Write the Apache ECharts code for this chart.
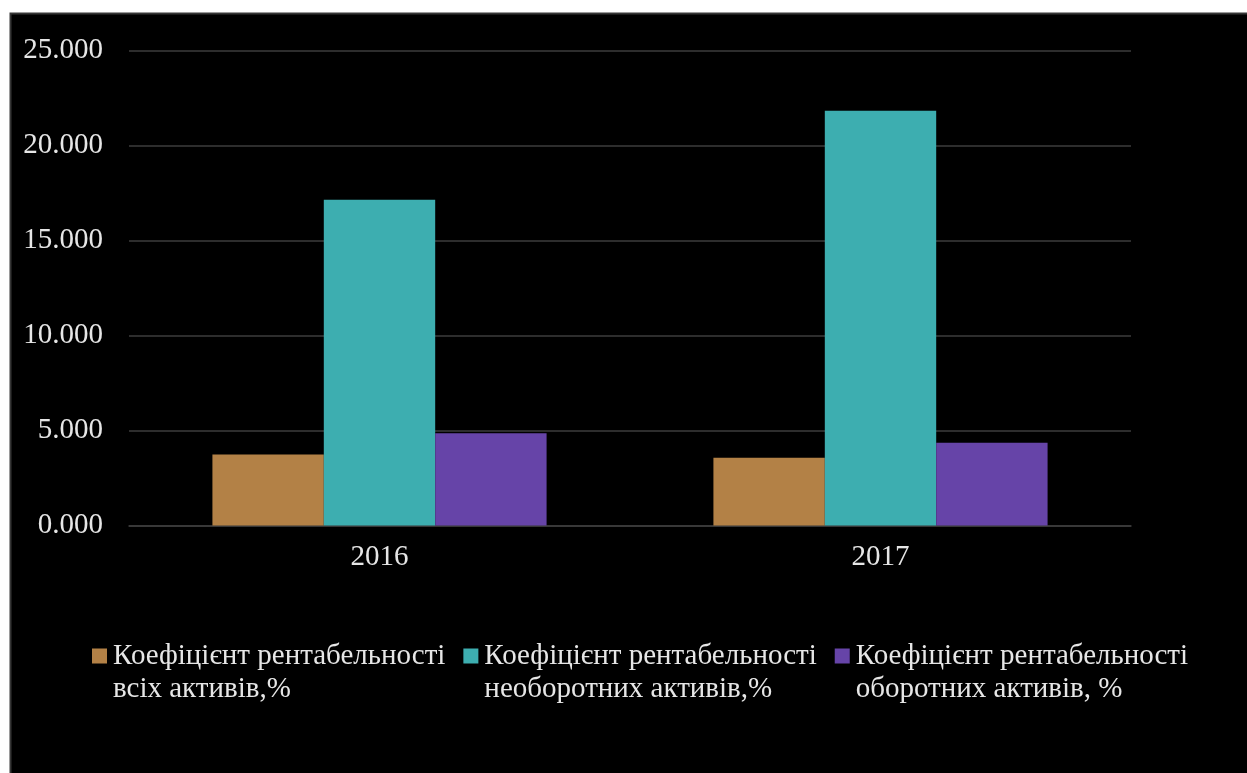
<!DOCTYPE html>
<html>
<head>
<meta charset="utf-8">
<script src="https://cdn.jsdelivr.net/npm/echarts@6/dist/echarts.min.js"></script>
<style>
  html, body { margin: 0; padding: 0; background: #ffffff; }
  #chart { width: 1247px; height: 773px; }
</style>
</head>
<body>
<div id="chart"></div>
<script>
// Years on the category axis
const years = ['2016', '2017'];

// Profitability ratios, %
const allAssets = [3.74, 3.56];
const nonCurrentAssets = [17.14, 21.83];
const currentAssets = [4.85, 4.35];

// Legend names (two lines each)
const seriesNames = [
  'Коефіцієнт рентабельності\nвсіх активів,%',
  'Коефіцієнт рентабельності\nнеоборотних активів,%',
  'Коефіцієнт рентабельності\nоборотних активів, %'
];

// Value axis range
const yMin = 0, yMax = 25, yStep = 5;

const FONT = '"Liberation Serif", "Times New Roman", serif';
const TEXT = '#e6e6e6';
const GRIDLINE = '#3c3c3c';
const colors = ['#b38146', '#3daeb0', '#6644a8'];

// Square legend marker sitting on the first text line
const legendIcon = 'path://M0,0h15v15h-15z M0,48.99h0.01v0.01h-0.01z';

const chart = echarts.init(document.getElementById('chart'), null, { renderer: 'canvas' });

chart.setOption({
  backgroundColor: 'transparent',
  animation: false,
  color: colors,
  graphic: [{
    type: 'rect',
    z: -10,
    silent: true,
    shape: { x: 10.5, y: 13.5, width: 1250, height: 770 },
    style: { fill: '#000000', stroke: '#363636', lineWidth: 2 }
  }],
  grid: { left: 129, right: 116, top: 50.5, bottom: 247.5 },
  xAxis: {
    type: 'category',
    data: years,
    axisLine: { show: true, lineStyle: { color: GRIDLINE, width: 1.5 } },
    axisTick: { show: false },
    axisLabel: { color: TEXT, fontFamily: FONT, fontSize: 29, margin: 17 }
  },
  yAxis: {
    type: 'value',
    min: yMin,
    max: yMax,
    interval: yStep,
    axisLine: { show: false },
    axisTick: { show: false },
    splitLine: { lineStyle: { color: GRIDLINE, width: 1.5 } },
    axisLabel: {
      color: TEXT, fontFamily: FONT, fontSize: 29, margin: 26,
      formatter: v => v.toFixed(3)
    }
  },
  legend: {
    left: 92,
    top: 640,
    padding: 0,
    itemWidth: 15,
    itemHeight: 49,
    itemGap: 18,
    icon: legendIcon,
    textStyle: { color: TEXT, fontFamily: FONT, fontSize: 29, lineHeight: 33, padding: [0, 0, 0, 1] },
    data: seriesNames
  },
  series: [
    { name: seriesNames[0], type: 'bar', data: allAssets, barGap: 0, barCategoryGap: '33.3%' },
    { name: seriesNames[1], type: 'bar', data: nonCurrentAssets, barGap: 0, barCategoryGap: '33.3%' },
    { name: seriesNames[2], type: 'bar', data: currentAssets, barGap: 0, barCategoryGap: '33.3%' }
  ]
});
</script>
</body>
</html>
